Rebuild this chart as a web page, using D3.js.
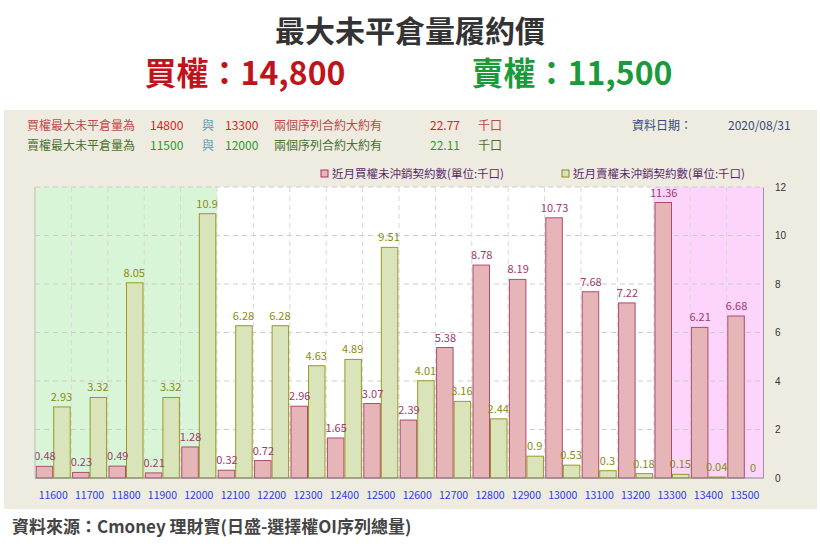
<!DOCTYPE html><html><head><meta charset="utf-8"><script src="https://cdn.jsdelivr.net/npm/d3@7"></script>
<style>body{margin:0;background:#fff}svg{font-family:"Noto Sans CJK TC","Noto Sans",sans-serif}</style></head><body><svg id="c" width="820" height="551"></svg><script>
const categories=["11600","11700","11800","11900","12000","12100","12200","12300","12400","12500","12600","12700","12800","12900","13000","13100","13200","13300","13400","13500"];
const callOI=[0.48,0.23,0.49,0.21,1.28,0.32,0.72,2.96,1.65,3.07,2.39,5.38,8.78,8.19,10.73,7.68,7.22,11.36,6.21,6.68];
const putOI=[2.93,3.32,8.05,3.32,10.9,6.28,6.28,4.63,4.89,9.51,4.01,3.16,2.44,0.9,0.53,0.3,0.18,0.15,0.04,0];
const yTicks=[0,2,4,6,8,10,12];
const svg=d3.select("#c");
svg.append("text").attr("x",410).attr("y",42).attr("text-anchor","middle").attr("font-size",30).attr("font-weight",700).attr("fill","#333").text("最大未平倉量履約價");
svg.append("text").attr("x",245).attr("y",85).attr("text-anchor","middle").attr("font-size",32).attr("font-weight",700).attr("fill","#c0141c").text("買權：14,800");
svg.append("text").attr("x",572).attr("y",85).attr("text-anchor","middle").attr("font-size",32).attr("font-weight",700).attr("fill","#1a9a3a").text("賣權：11,500");
svg.append("rect").attr("x",4).attr("y",110).attr("width",813).attr("height",399).attr("fill","#eeebe0");
const f=12;
function row(y,items){items.forEach(([x,t,col])=>svg.append("text").attr("x",x).attr("y",y).attr("font-size",f).attr("fill",col).text(t));}
row(130,[[27,"買權最大未平倉量為","#c04848"],[150,"14800","#e02020"],[202,"與","#5a9ab0"],[225,"13300","#e02020"],[274,"兩個序列合約大約有","#c04848"],[430,"22.77","#e02020"],[478,"千口","#c04848"],[632,"資料日期：","#334a7a"],[728,"2020/08/31","#334a7a"]]);
row(150,[[27,"賣權最大未平倉量為","#4a7030"],[150,"11500","#2a9a2a"],[202,"與","#5a9ab0"],[225,"12000","#2a9a2a"],[274,"兩個序列合約大約有","#4a7030"],[430,"22.11","#2a9a2a"],[478,"千口","#4a7030"]]);
svg.append("rect").attr("x",321).attr("y",170).attr("width",7).attr("height",7).attr("fill","#e8b4b8").attr("stroke","#b03060");
svg.append("text").attr("x",332).attr("y",178).attr("font-size",11.5).attr("fill","#5a2a6a").text("近月買權未沖銷契約數(單位:千口)");
svg.append("rect").attr("x",562).attr("y",170).attr("width",7).attr("height",7).attr("fill","#d8e4b8").attr("stroke","#8a8a20");
svg.append("text").attr("x",573).attr("y",178).attr("font-size",11.5).attr("fill","#5a2a6a").text("近月賣權未沖銷契約數(單位:千口)");
const L=35,R=763,T=187,B=478;
const x=d3.scaleBand().domain(categories).range([L,R]);
const y=d3.scaleLinear().domain([0,12]).range([B,T]);
const g=svg.append("g");
g.append("rect").attr("x",L).attr("y",T).attr("width",R-L).attr("height",B-T).attr("fill","#fff");
g.append("rect").attr("x",L).attr("y",T).attr("width",x("12100")-L).attr("height",B-T).attr("fill","#d8f5d8");
g.append("rect").attr("x",x("13300")).attr("y",T).attr("width",R-x("13300")).attr("height",B-T).attr("fill","#fcd4fc");
yTicks.slice(1).forEach(t=>g.append("line").attr("x1",L).attr("x2",R).attr("y1",y(t)).attr("y2",y(t)).attr("stroke","#ccc").attr("stroke-dasharray","5,4"));
categories.slice(1).forEach(c=>g.append("line").attr("x1",x(c)).attr("x2",x(c)).attr("y1",T).attr("y2",B).attr("stroke","#d8d8d8").attr("stroke-dasharray","5,4"));
const bw=16.5;
categories.forEach((c,i)=>{
 const cx=x(c)+x.bandwidth()/2;
 g.append("rect").attr("x",cx-bw-0.5).attr("y",y(callOI[i])).attr("width",bw).attr("height",B-y(callOI[i])).attr("fill","#e6b5b8").attr("stroke","#b04a70");
 g.append("rect").attr("x",cx+0.5).attr("y",y(putOI[i])).attr("width",bw).attr("height",B-y(putOI[i])).attr("fill","#d9e4bb").attr("stroke","#9a9a20");
 g.append("text").attr("x",cx-bw/2).attr("y",y(callOI[i])-6).attr("text-anchor","middle").attr("font-size",11).attr("fill","#a03a6a").text(callOI[i]);
 g.append("text").attr("x",cx+bw/2).attr("y",y(putOI[i])-6).attr("text-anchor","middle").attr("font-size",11).attr("fill","#8a8a10").text(putOI[i]);
 svg.append("text").attr("x",cx).attr("y",499).attr("text-anchor","middle").attr("font-size",10.5).attr("fill","#2a3af0").text(c);
});
g.append("line").attr("x1",L).attr("x2",R).attr("y1",B).attr("y2",B).attr("stroke","#888");
g.append("line").attr("x1",L).attr("x2",L).attr("y1",T).attr("y2",B).attr("stroke","#bbb");
const ax=svg.append("g").attr("transform",`translate(${R},0)`).call(d3.axisRight(y).tickValues(yTicks).tickSize(0).tickPadding(12));
ax.select(".domain").attr("stroke","#999");
ax.selectAll("text").attr("font-size",10).attr("fill","#333");
svg.append("text").attr("x",12).attr("y",533).attr("font-size",17).attr("font-weight",700).attr("fill","#444").text("資料來源：Cmoney 理財寶(日盛-選擇權OI序列總量)");
</script></body></html>
